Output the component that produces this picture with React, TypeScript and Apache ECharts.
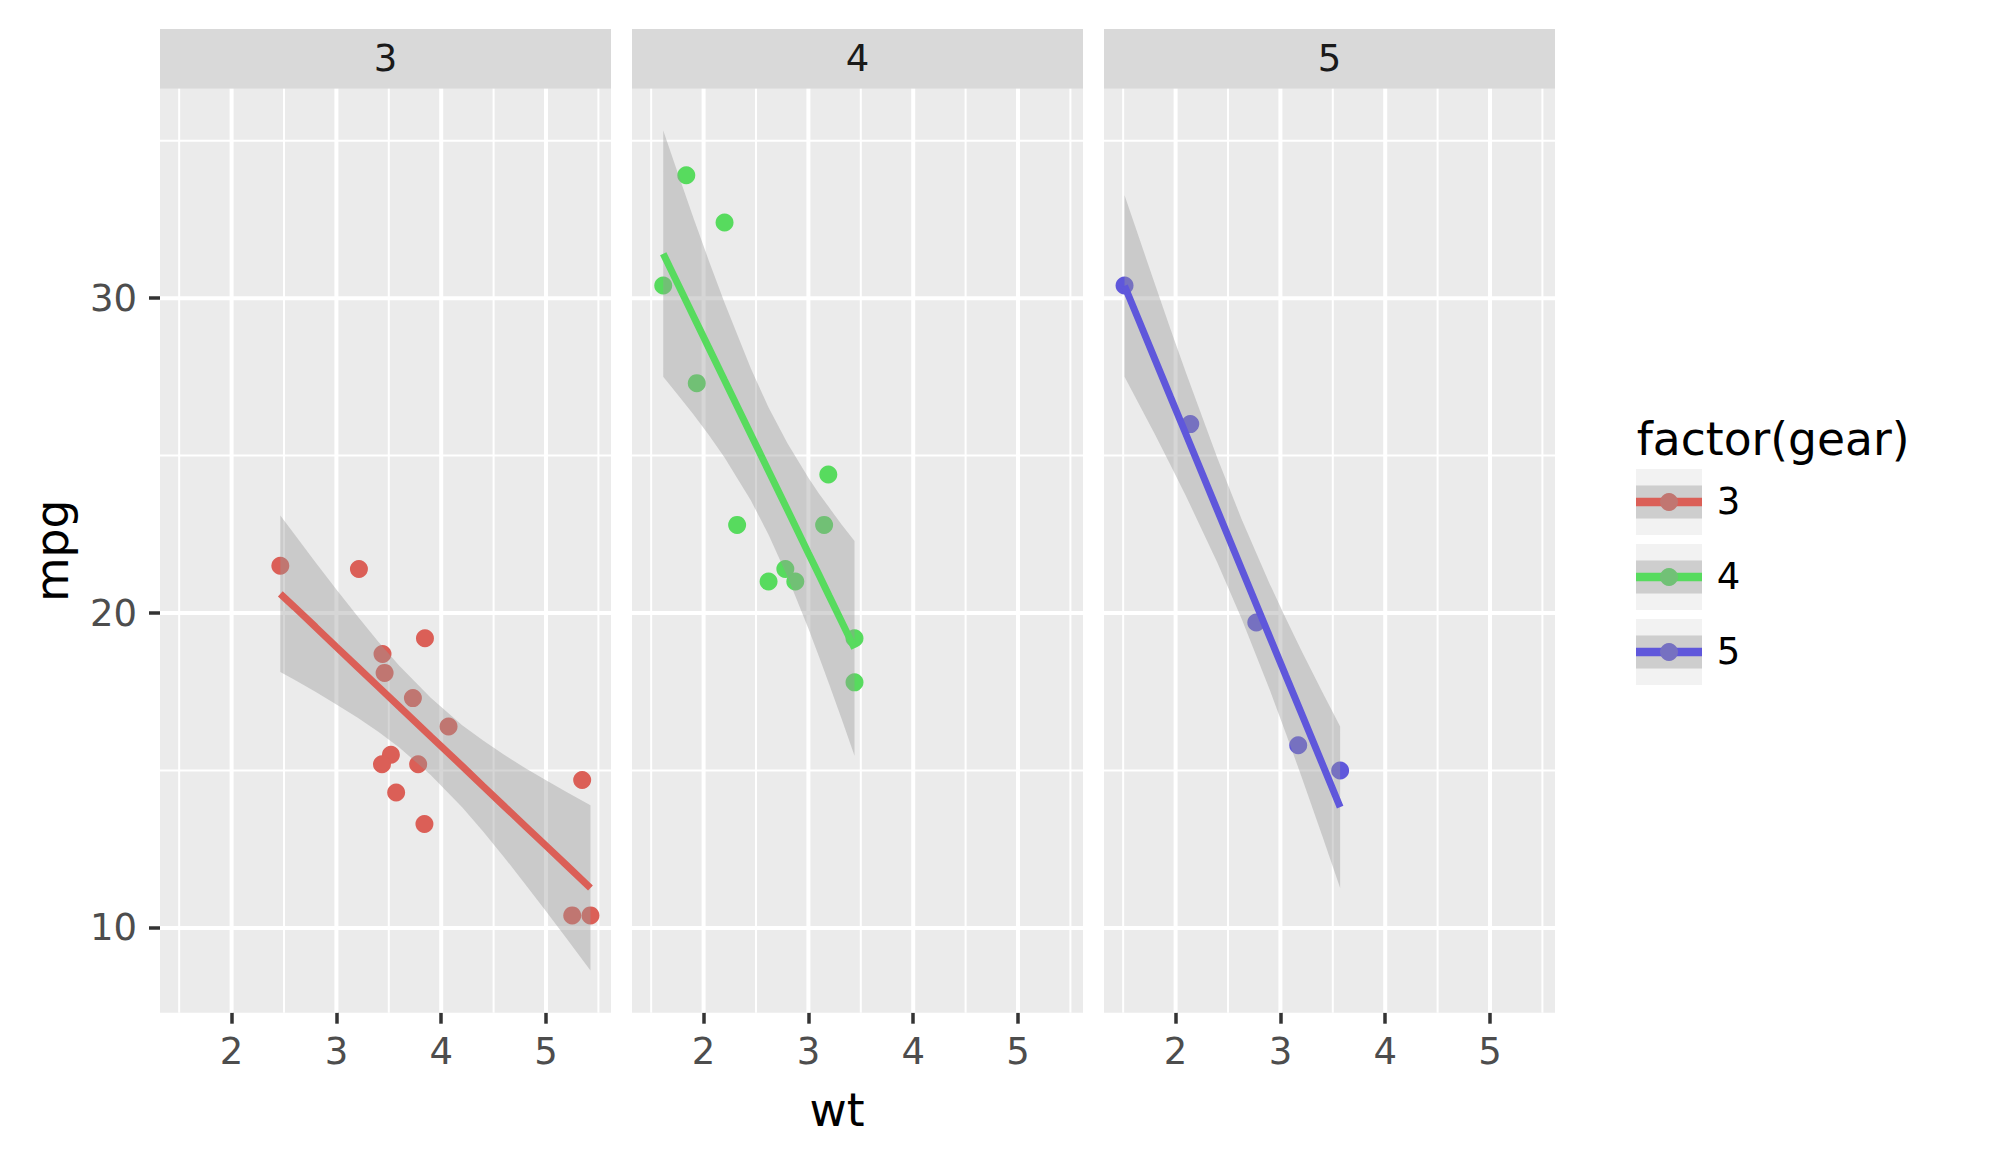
import React, { useEffect, useRef } from 'react';
import * as echarts from 'echarts';

// ---- data (mtcars, faceted by gear) ----
const facetLabels = ['3', '4', '5'];

const gear3Wt = [3.215, 3.44, 3.46, 3.57, 4.07, 3.73, 3.78, 5.25, 5.424, 5.345, 3.52, 3.435, 3.84, 3.845, 2.465];
const gear3Mpg = [21.4, 18.7, 18.1, 14.3, 16.4, 17.3, 15.2, 10.4, 10.4, 14.7, 15.5, 15.2, 13.3, 19.2, 21.5];
const gear4Wt = [2.62, 2.875, 2.32, 3.19, 3.15, 3.44, 3.44, 2.2, 1.615, 1.835, 1.935, 2.78];
const gear4Mpg = [21.0, 21.0, 22.8, 24.4, 22.8, 19.2, 17.8, 32.4, 30.4, 33.9, 27.3, 21.4];
const gear5Wt = [2.14, 1.513, 3.17, 2.77, 3.57];
const gear5Mpg = [26.0, 30.4, 15.8, 19.7, 15.0];

// smooth (lm) fit and confidence band, read along wt
const band3X = [2.465, 2.6, 2.8, 3.0, 3.2, 3.4, 3.6, 3.9, 4.2, 4.4, 4.6, 4.8, 5.0, 5.2, 5.424];
const band3Fit = [20.61, 20.19, 19.56, 18.92, 18.29, 17.66, 17.03, 16.08, 15.14, 14.50, 13.87, 13.24, 12.61, 11.98, 11.27];
const band3Lo = [18.13, 17.88, 17.50, 17.10, 16.68, 16.23, 15.73, 14.86, 13.83, 13.06, 12.25, 11.40, 10.53, 9.65, 8.65];
const band3Hi = [23.10, 22.50, 21.61, 20.75, 19.91, 19.09, 18.33, 17.31, 16.44, 15.95, 15.50, 15.08, 14.69, 14.31, 13.90];

const band4X = [1.615, 1.75, 1.9, 2.05, 2.2, 2.45, 2.62, 2.8, 3.0, 3.1, 3.2, 3.32, 3.44];
const band4Fit = [31.41, 30.48, 29.45, 28.42, 27.39, 25.68, 24.51, 23.28, 21.90, 21.22, 20.53, 19.71, 18.88];
const band4Lo = [27.50, 26.95, 26.32, 25.65, 24.94, 23.58, 22.49, 21.16, 19.51, 18.63, 17.72, 16.61, 15.47];
const band4Hi = [35.32, 34.01, 32.58, 31.19, 29.85, 27.77, 26.53, 25.39, 24.30, 23.80, 23.34, 22.80, 22.29];

const band5X = [1.513, 1.65, 1.8, 1.95, 2.1, 2.4, 2.63, 2.9, 3.05, 3.2, 3.4, 3.57];
const band5Fit = [30.39, 29.29, 28.08, 26.87, 25.67, 23.25, 21.40, 19.23, 18.02, 16.82, 15.21, 13.84];
const band5Lo = [27.50, 26.64, 25.69, 24.71, 23.71, 21.59, 19.82, 17.55, 16.20, 14.82, 12.92, 11.27];
const band5Hi = [33.27, 31.93, 30.47, 29.03, 27.62, 24.91, 22.98, 20.91, 19.84, 18.81, 17.49, 16.40];

const xTicks = [2, 3, 4, 5];
const xMinor = [1.5, 2.5, 3.5, 4.5, 5.5];
const yTicks = [10, 20, 30];
const yMinor = [15, 25, 35];

const X_MIN = 1.317;
const X_MAX = 5.62;
const Y_MIN = 7.31;
const Y_MAX = 36.65;

const COLORS = ['#DB5F57', '#57DB5E', '#5F57DB'];
const MUTED = ['#C17671', '#71C176', '#7671C1'];
const BAND_FILL = 'rgba(153,153,153,0.4)';
const FONT = 'DejaVu Sans';

const panels = [
  { wt: gear3Wt, mpg: gear3Mpg, bx: band3X, fit: band3Fit, lo: band3Lo, hi: band3Hi },
  { wt: gear4Wt, mpg: gear4Mpg, bx: band4X, fit: band4Fit, lo: band4Lo, hi: band4Hi },
  { wt: gear5Wt, mpg: gear5Mpg, bx: band5X, fit: band5Fit, lo: band5Lo, hi: band5Hi },
];

const PANEL_LEFT = [160, 632, 1104];
const PANEL_W = 451;
const PANEL_TOP = 88.7;
const PANEL_H = 924;
const STRIP_TOP = 29;

function buildOption() {
  const grid = panels.map((_, i) => ({
    left: PANEL_LEFT[i],
    top: PANEL_TOP,
    width: PANEL_W,
    height: PANEL_H,
    show: true,
    backgroundColor: '#EBEBEB',
    borderWidth: 0,
  }));

  const xAxis = panels.map((_, i) => ({
    type: 'value',
    gridIndex: i,
    min: X_MIN,
    max: X_MAX,
    axisLine: { show: false },
    splitLine: { show: false },
    axisTick: { show: true, length: 11, lineStyle: { color: '#333333', width: 3.5 }, customValues: xTicks },
    axisLabel: { show: true, customValues: xTicks, fontSize: 37, color: '#4D4D4D', fontFamily: FONT, margin: 20.3 },
  }));

  const yAxis = panels.map((_, i) => ({
    type: 'value',
    gridIndex: i,
    min: Y_MIN,
    max: Y_MAX,
    axisLine: { show: false },
    splitLine: { show: false },
    axisTick: { show: i === 0, length: 11, lineStyle: { color: '#333333', width: 3.5 }, customValues: yTicks },
    axisLabel: {
      show: i === 0,
      customValues: yTicks,
      fontSize: 37,
      color: '#4D4D4D',
      fontFamily: FONT,
      margin: 23,
      padding: [2.6, 0, 0, 0],
    },
  }));

  const series: any[] = [];
  panels.forEach((p, i) => {
    // grid lines
    series.push({
      type: 'custom',
      xAxisIndex: i,
      yAxisIndex: i,
      silent: true,
      z: 1,
      data: [[3, 20]],
      renderItem: (params: any, api: any) => {
        const children: any[] = [];
        const vline = (v: number, w: number) => {
          const a = api.coord([v, Y_MIN]);
          const b = api.coord([v, Y_MAX]);
          children.push({ type: 'line', shape: { x1: a[0], y1: a[1], x2: b[0], y2: b[1] }, style: { stroke: '#FFFFFF', lineWidth: w } });
        };
        const hline = (v: number, w: number) => {
          const a = api.coord([X_MIN, v]);
          const b = api.coord([X_MAX, v]);
          children.push({ type: 'line', shape: { x1: a[0], y1: a[1], x2: b[0], y2: b[1] }, style: { stroke: '#FFFFFF', lineWidth: w } });
        };
        xMinor.forEach((v) => vline(v, 2));
        yMinor.forEach((v) => hline(v, 2));
        xTicks.forEach((v) => vline(v, 4));
        yTicks.forEach((v) => hline(v, 4));
        return { type: 'group', children };
      },
    });
    // points
    series.push({
      type: 'scatter',
      xAxisIndex: i,
      yAxisIndex: i,
      z: 2,
      silent: true,
      symbolSize: 18,
      itemStyle: { color: COLORS[i], opacity: 1 },
      data: p.wt.map((w, k) => [w, p.mpg[k]]),
    });
    // confidence band
    series.push({
      type: 'custom',
      xAxisIndex: i,
      yAxisIndex: i,
      silent: true,
      z: 3,
      data: [[p.bx[0], p.fit[0]]],
      renderItem: (params: any, api: any) => {
        const upper = p.bx.map((x, k) => api.coord([x, p.hi[k]]));
        const lower = p.bx.map((x, k) => api.coord([x, p.lo[k]])).reverse();
        return { type: 'polygon', shape: { points: upper.concat(lower) }, style: { fill: BAND_FILL } };
      },
    });
    // fit line
    series.push({
      type: 'line',
      xAxisIndex: i,
      yAxisIndex: i,
      z: 4,
      silent: true,
      showSymbol: false,
      symbol: 'none',
      lineStyle: { color: COLORS[i], width: 7 },
      data: p.bx.map((x, k) => [x, p.fit[k]]),
    });
  });

  const graphic: any[] = [];
  // strips
  panels.forEach((_, i) => {
    graphic.push({
      type: 'rect',
      shape: { x: PANEL_LEFT[i], y: STRIP_TOP, width: PANEL_W, height: PANEL_TOP - STRIP_TOP },
      style: { fill: '#D9D9D9' },
      silent: true,
    });
    graphic.push({
      type: 'text',
      x: PANEL_LEFT[i] + PANEL_W / 2,
      y: 58.7,
      style: { text: facetLabels[i], fontSize: 37, fontFamily: FONT, fill: '#1A1A1A', textAlign: 'center', textVerticalAlign: 'middle' },
      silent: true,
    });
  });
  // axis titles
  graphic.push({
    type: 'text',
    x: 837,
    y: 1110.8,
    style: { text: 'wt', fontSize: 45.5, fontFamily: FONT, fill: '#000000', textAlign: 'center', textVerticalAlign: 'middle' },
    silent: true,
  });
  graphic.push({
    type: 'text',
    x: 52.4,
    y: 550.7,
    rotation: Math.PI / 2,
    style: { text: 'mpg', fontSize: 45.5, fontFamily: FONT, fill: '#000000', textAlign: 'center', textVerticalAlign: 'middle' },
    silent: true,
  });
  // legend
  graphic.push({
    type: 'text',
    x: 1636.7,
    y: 439.4,
    style: { text: 'factor(gear)', fontSize: 45.6, fontFamily: FONT, fill: '#000000', textAlign: 'left', textVerticalAlign: 'middle' },
    silent: true,
  });
  facetLabels.forEach((lab, i) => {
    const top = 469 + 75 * i;
    const left = 1636;
    const size = 66;
    const cy = top + size / 2;
    graphic.push({ type: 'rect', shape: { x: left, y: top, width: size, height: size }, style: { fill: '#F2F2F2' }, silent: true });
    graphic.push({ type: 'rect', shape: { x: left, y: cy - 16.5, width: size, height: 33 }, style: { fill: BAND_FILL }, silent: true });
    graphic.push({ type: 'line', shape: { x1: left, y1: cy, x2: left + size, y2: cy }, style: { stroke: COLORS[i], lineWidth: 8.5 }, silent: true });
    graphic.push({ type: 'circle', shape: { cx: left + size / 2, cy, r: 9 }, style: { fill: MUTED[i] }, silent: true });
    graphic.push({
      type: 'text',
      x: 1716.7,
      y: cy - 0.4,
      style: { text: lab, fontSize: 37, fontFamily: FONT, fill: '#000000', textAlign: 'left', textVerticalAlign: 'middle' },
      silent: true,
    });
  });

  return {
    animation: false,
    backgroundColor: '#FFFFFF',
    textStyle: { fontFamily: FONT },
    grid,
    xAxis,
    yAxis,
    series,
    graphic,
  };
}

export default function App() {
  const ref = useRef<HTMLDivElement>(null);
  useEffect(() => {
    if (!ref.current) return;
    const chart = echarts.init(ref.current, undefined, { renderer: 'svg' });
    chart.setOption(buildOption() as any);
    return () => {
      chart.dispose();
    };
  }, []);
  return <div ref={ref} style={{ position: 'fixed', left: 0, top: 0, width: 1991, height: 1164 }} />;
}
